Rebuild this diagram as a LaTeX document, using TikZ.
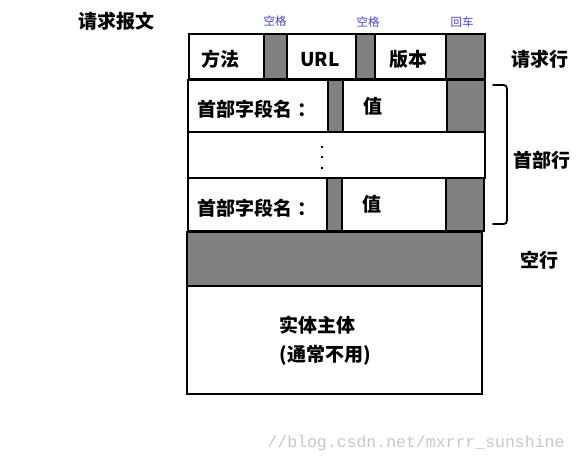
\documentclass[tikz,border=0pt]{standalone}
\usepackage{fontspec}
\newfontfamily\cjk{Noto Sans CJK SC}
\setmonofont{Liberation Mono}
\definecolor{cellgray}{HTML}{808080}
\definecolor{tagblue}{HTML}{4444CC}
\definecolor{wmgray}{HTML}{C8C8C8}
\begin{document}
\begin{tikzpicture}[x=1pt,y=-1pt,
  cell/.style={draw=black,line width=1.3pt,inner sep=0pt,outer sep=0pt},
  gcell/.style={cell,fill=cellgray},
  wcell/.style={cell,fill=white},
  lbl/.style={font=\cjk\bfseries\fontsize{19}{22}\selectfont,inner sep=0pt},
  tag/.style={font=\cjk\fontsize{11.5}{13}\selectfont,text=tagblue,inner sep=0pt}]
\useasboundingbox (0,0) rectangle (577,463);
% request line
\draw[wcell] (189,34) rectangle (264,79);
\draw[gcell] (264,34) rectangle (287,79);
\draw[wcell] (287,34) rectangle (356,79);
\draw[gcell] (356,34) rectangle (375,79);
\draw[wcell] (375,34) rectangle (446,79);
\draw[gcell] (446,34) rectangle (485,79);
% header line 1
\draw[wcell] (188,80) rectangle (328,132);
\draw[gcell] (328,80) rectangle (343,132);
\draw[wcell] (343,80) rectangle (447,132);
\draw[gcell] (447,80) rectangle (485,132);
% dots row
\draw[wcell] (188,132) rectangle (485,178);
% header line 2
\draw[wcell] (188,178) rectangle (327,231);
\draw[gcell] (327,178) rectangle (342,231);
\draw[wcell] (342,178) rectangle (446,231);
\draw[gcell] (446,178) rectangle (484,231);
% empty line
\draw[gcell] (187,232) rectangle (482,286);
% body
\draw[wcell] (187,286) rectangle (482,394);
% texts
\node[lbl] (title) at (116,21) {请求报文};
\node[tag] (sp1) at (275,21) {空格};
\node[tag] (sp2) at (368,22) {空格};
\node[tag] (cr) at (462,22) {回车};
\node[lbl] (method) at (220,59) {方法};
\node[lbl] (url) at (320,60) {URL};
\node[lbl] (ver) at (408,59) {版本};
\node[lbl] (h1n) at (257,109) {首部字段名\kern0.3em：};
\node[lbl] (h1v) at (373,106) {值};
\node[lbl] (h2n) at (257,208) {首部字段名\kern0.3em：};
\node[lbl] (h2v) at (372,204) {值};
\foreach \yy in {147,157,168} \fill (322,\yy) circle (1.4pt);
\node[lbl] (body1) at (317,325) {实体主体};
\node[lbl] (body2) at (325,355) {(通常不用)};
\node[lbl] (reqline) at (540,59) {请求行};
\node[lbl] (hdrline) at (542,160) {首部行};
\node[lbl] (emptyline) at (539,260) {空行};
\draw[line width=1.8pt,line cap=round] (493,85) -- (500,85) .. controls (507,85) .. (507,93) -- (507,216) .. controls (507,224) .. (500,224) -- (493,224);
\node[font=\ttfamily\fontsize{16.5}{18}\selectfont,text=wmgray,inner sep=0pt] (wm) at (416,443) {//blog.csdn.net/mxrrr\_sunshine};
\end{tikzpicture}
\end{document}
